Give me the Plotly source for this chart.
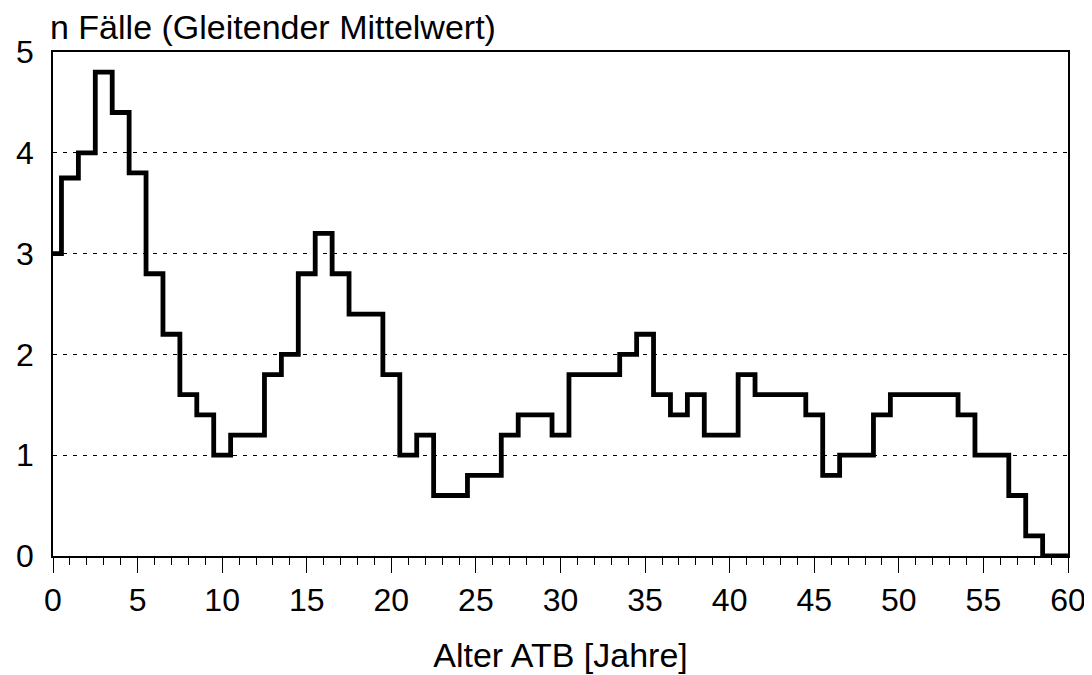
import plotly.graph_objects as go

# Data (moving average, step per year of age)
ages = list(range(0, 61))
cases = [3.0, 3.75, 4.0, 4.8, 4.4, 3.8, 2.8, 2.2, 1.6, 1.4,
         1.0, 1.2, 1.2, 1.8, 2.0, 2.8, 3.2, 2.8, 2.4, 2.4,
         1.8, 1.0, 1.2, 0.6, 0.6, 0.8, 0.8, 1.2, 1.4, 1.4,
         1.2, 1.8, 1.8, 1.8, 2.0, 2.2, 1.6, 1.4, 1.6, 1.2,
         1.2, 1.8, 1.6, 1.6, 1.6, 1.4, 0.8, 1.0, 1.0, 1.4,
         1.6, 1.6, 1.6, 1.6, 1.4, 1.0, 1.0, 0.6, 0.2, 0.0,
         0.0]
x_ticks = [0, 5, 10, 15, 20, 25, 30, 35, 40, 45, 50, 55, 60]
y_ticks = [0, 1, 2, 3, 4, 5]

x_title = "Alter ATB [Jahre]"
y_title = "n Fälle (Gleitender Mittelwert)"

FONT = "Liberation Sans, Arial, Helvetica, sans-serif"

fig = go.Figure()
fig.add_trace(go.Scatter(
    x=ages, y=cases, mode="lines",
    line=dict(color="black", width=4.8, shape="hvh"),
    showlegend=False,
))

# the page adds an 8px body margin, so margins are offset to compensate
fig.update_layout(
    width=1092, height=675,
    margin=dict(l=45, r=32, t=44, b=127, autoexpand=False),
    paper_bgcolor="white", plot_bgcolor="white",
    font=dict(family=FONT, color="black", size=32),
    showlegend=False,
)

fig.update_xaxes(
    range=[0, 60], tickmode="array", tickvals=x_ticks,
    ticks="outside", ticklen=15, tickwidth=1.2, tickcolor="black",
    showline=True, linecolor="black", linewidth=1.5, mirror=True,
    showgrid=False, zeroline=False, automargin=False,
    tickfont=dict(size=32),
    minor=dict(dtick=1, ticks="outside", ticklen=7, tickwidth=1, tickcolor="black", showgrid=False),
    title=dict(text=x_title, font=dict(size=34), standoff=26),
)

fig.update_yaxes(
    range=[0, 5], tickmode="array", tickvals=y_ticks,
    ticks="", showline=True, linecolor="black", linewidth=1.5, mirror=True,
    showgrid=True, gridcolor="black", gridwidth=1, griddash="4px,6px",
    zeroline=False, automargin=False, tickfont=dict(size=32), ticklabelstandoff=11,
)

fig.add_annotation(
    text=y_title, xref="paper", yref="paper", x=0, y=1,
    xanchor="left", yanchor="bottom", showarrow=False,
    font=dict(size=34), xshift=-5, yshift=4,
)

fig.write_html("out.html")
